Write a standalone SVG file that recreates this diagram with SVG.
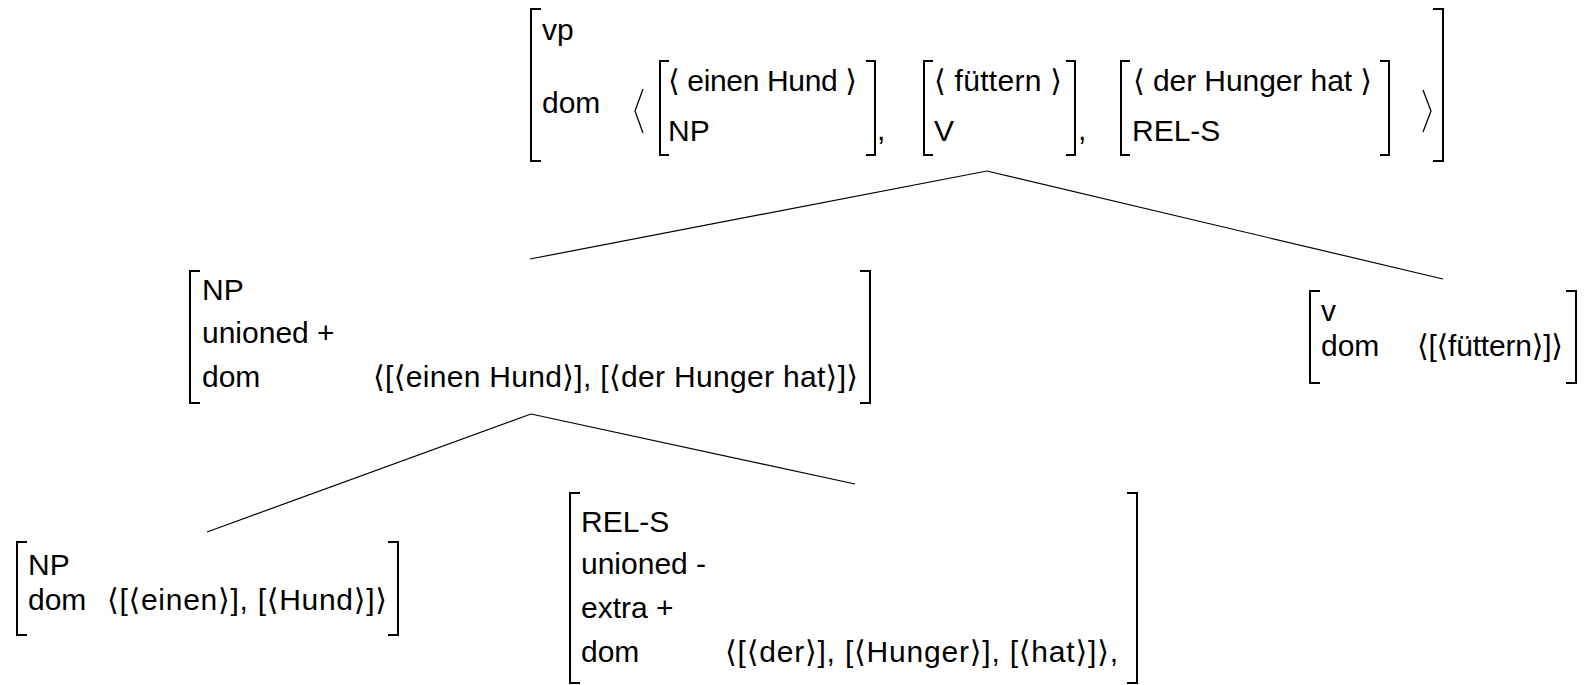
<svg xmlns="http://www.w3.org/2000/svg" width="1592" height="685" viewBox="0 0 1592 685">
  <style>
    text { font-family: "Liberation Sans", "DejaVu Sans", sans-serif; font-size: 30px; fill: #000; }
    .brk { fill: none; stroke: #000; stroke-width: 2; }
    .ang { fill: none; stroke: #000; stroke-width: 1.3; }
    .edge { stroke: #000; stroke-width: 1.2; fill: none; }
  </style>
  <rect width="1592" height="685" fill="#fff"/>

  <!-- connectors -->
  <g id="edges">
    <line class="edge" x1="987" y1="171" x2="530" y2="259"/>
    <line class="edge" x1="987" y1="171" x2="1443" y2="279"/>
    <line class="edge" x1="531" y1="414" x2="207" y2="532"/>
    <line class="edge" x1="531" y1="414" x2="855" y2="484"/>
  </g>

  <!-- root: vp -->
  <g id="node-vp">
    <path class="brk" d="M541 9 H531 V161 H541"/>
    <path class="brk" d="M1433 9 H1443 V161 H1433"/>
    <text x="542" y="40">vp</text>
    <text x="542" y="113">dom</text>
    <path class="ang" d="M643 89 L635 111 L643 133"/>
    <!-- element 1 -->
    <path class="brk" d="M669 61 H660 V155 H669"/>
    <path class="brk" d="M866 61 H875 V155 H866"/>
    <text x="668" y="91" textLength="189">⟨ einen Hund ⟩</text>
    <text x="668" y="141">NP</text>
    <text x="877" y="140">,</text>
    <!-- element 2 -->
    <path class="brk" d="M933 61 H924 V155 H933"/>
    <path class="brk" d="M1066 61 H1075 V155 H1066"/>
    <text x="934" y="91" textLength="128">⟨ füttern ⟩</text>
    <text x="934" y="141">V</text>
    <text x="1078" y="140">,</text>
    <!-- element 3 -->
    <path class="brk" d="M1130 61 H1121 V155 H1130"/>
    <path class="brk" d="M1380 61 H1389 V155 H1380"/>
    <text x="1133" y="91" textLength="239">⟨ der Hunger hat ⟩</text>
    <text x="1132" y="141">REL-S</text>
    <path class="ang" d="M1423 90 L1431 111 L1423 132"/>
  </g>

  <!-- NP (unioned) -->
  <g id="node-np-union">
    <path class="brk" d="M200 271 H190 V403 H200"/>
    <path class="brk" d="M860 271 H870 V403 H860"/>
    <text x="202" y="300">NP</text>
    <text x="202" y="343">unioned +</text>
    <text x="202" y="387">dom</text>
    <text x="373" y="387" textLength="485">⟨[⟨einen Hund⟩], [⟨der Hunger hat⟩]⟩</text>
  </g>

  <!-- v -->
  <g id="node-v">
    <path class="brk" d="M1320 291 H1310 V383 H1320"/>
    <path class="brk" d="M1566 291 H1576 V383 H1566"/>
    <text x="1321" y="321">v</text>
    <text x="1321" y="356">dom</text>
    <text x="1417" y="356" textLength="146">⟨[⟨füttern⟩]⟩</text>
  </g>

  <!-- NP einen Hund -->
  <g id="node-np">
    <path class="brk" d="M27 542 H17 V635 H27"/>
    <path class="brk" d="M388 542 H398 V635 H388"/>
    <text x="28" y="575">NP</text>
    <text x="28" y="610">dom</text>
    <text x="107" y="610" textLength="280">⟨[⟨einen⟩], [⟨Hund⟩]⟩</text>
  </g>

  <!-- REL-S -->
  <g id="node-rels">
    <path class="brk" d="M580 493 H570 V683 H580"/>
    <path class="brk" d="M1127 493 H1137 V683 H1127"/>
    <text x="581" y="532">REL-S</text>
    <text x="581" y="574">unioned -</text>
    <text x="581" y="618">extra +</text>
    <text x="581" y="662">dom</text>
    <text x="725" y="662" textLength="393">⟨[⟨der⟩], [⟨Hunger⟩], [⟨hat⟩]⟩,</text>
  </g>
</svg>
